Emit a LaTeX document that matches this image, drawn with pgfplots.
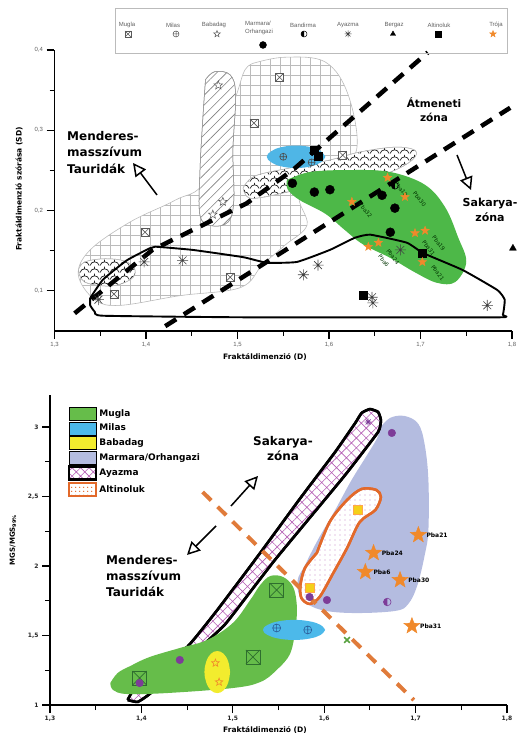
\documentclass[border=0pt]{standalone}
\usepackage{fontspec}
\setmainfont{DejaVu Sans}
\newfontfamily\lsans{Liberation Sans}
\usepackage{pgfplots}
\pgfplotsset{compat=1.18}
\usetikzlibrary{patterns.meta,arrows.meta}

\definecolor{tgreen}{HTML}{4DB848}
\definecolor{tblue}{HTML}{4FB6E6}
\definecolor{torange}{HTML}{F0892B}
\definecolor{bgreen}{HTML}{66BD4A}
\definecolor{bblue}{HTML}{4CB9EA}
\definecolor{byellow}{HTML}{F2EC2E}
\definecolor{blav}{HTML}{B4BCE0}
\definecolor{bpink}{HTML}{B45CB4}
\definecolor{borange}{HTML}{E2692A}
\definecolor{bdash}{HTML}{E07B3A}
\definecolor{bpurple}{HTML}{7D3C98}
\definecolor{dgreen}{HTML}{2E6E2E}
\definecolor{dblue}{HTML}{2A5D9A}
\definecolor{lgray}{HTML}{BBBBBB}
\definecolor{tgray}{HTML}{5F5F5F}
\definecolor{sqyel}{HTML}{F4D01A}

\tikzdeclarepattern{
  name=scallop,
  type=uncolored,
  bottom left={(0pt,0pt)},
  top right={(10pt,7pt)},
  tile size={(10pt,7pt)},
  code={
    \draw[line width=0.8pt] (0pt,0.5pt) .. controls (1.5pt,6pt) and (8.5pt,6pt) .. (10pt,0.5pt);
    \draw[line width=0.8pt] (5pt,4.6pt) -- (5pt,7pt);
  }
}

\pgfdeclareplotmark{boxx}{%
  \pgfpathrectangle{\pgfqpoint{-\pgfplotmarksize}{-\pgfplotmarksize}}{\pgfqpoint{2\pgfplotmarksize}{2\pgfplotmarksize}}%
  \pgfusepathqfillstroke
  \pgfpathmoveto{\pgfqpoint{-\pgfplotmarksize}{-\pgfplotmarksize}}\pgfpathlineto{\pgfqpoint{\pgfplotmarksize}{\pgfplotmarksize}}%
  \pgfpathmoveto{\pgfqpoint{-\pgfplotmarksize}{\pgfplotmarksize}}\pgfpathlineto{\pgfqpoint{\pgfplotmarksize}{-\pgfplotmarksize}}%
  \pgfusepathqstroke}
\pgfdeclareplotmark{ast8}{%
  \pgfpathmoveto{\pgfqpoint{-\pgfplotmarksize}{0pt}}\pgfpathlineto{\pgfqpoint{\pgfplotmarksize}{0pt}}%
  \pgfpathmoveto{\pgfqpoint{0pt}{-\pgfplotmarksize}}\pgfpathlineto{\pgfqpoint{0pt}{\pgfplotmarksize}}%
  \pgfpathmoveto{\pgfqpoint{-0.707\pgfplotmarksize}{-0.707\pgfplotmarksize}}\pgfpathlineto{\pgfqpoint{0.707\pgfplotmarksize}{0.707\pgfplotmarksize}}%
  \pgfpathmoveto{\pgfqpoint{-0.707\pgfplotmarksize}{0.707\pgfplotmarksize}}\pgfpathlineto{\pgfqpoint{0.707\pgfplotmarksize}{-0.707\pgfplotmarksize}}%
  \pgfusepathqstroke}
\pgfdeclareplotmark{star5}{%
  \pgfpathmoveto{\pgfpointpolar{90}{\pgfplotmarksize}}%
  \pgfpathlineto{\pgfpointpolar{126}{0.42*\pgfplotmarksize}}%
  \pgfpathlineto{\pgfpointpolar{162}{\pgfplotmarksize}}%
  \pgfpathlineto{\pgfpointpolar{198}{0.42*\pgfplotmarksize}}%
  \pgfpathlineto{\pgfpointpolar{234}{\pgfplotmarksize}}%
  \pgfpathlineto{\pgfpointpolar{270}{0.42*\pgfplotmarksize}}%
  \pgfpathlineto{\pgfpointpolar{306}{\pgfplotmarksize}}%
  \pgfpathlineto{\pgfpointpolar{342}{0.42*\pgfplotmarksize}}%
  \pgfpathlineto{\pgfpointpolar{18}{\pgfplotmarksize}}%
  \pgfpathlineto{\pgfpointpolar{54}{0.42*\pgfplotmarksize}}%
  \pgfpathclose
  \pgfusepathqfillstroke}
\pgfdeclareplotmark{halfc}{%
  \pgfpathmoveto{\pgfqpoint{0pt}{\pgfplotmarksize}}%
  \pgfpatharc{90}{270}{\pgfplotmarksize}%
  \pgfpathclose
  \pgfusepathqfill
  \pgfpathcircle{\pgfpointorigin}{\pgfplotmarksize}%
  \pgfusepathqstroke}

\pgfplotsset{
  base/.style={scale only axis, anchor=south west, axis lines*=left, clip=false,
    axis line style={line width=1.6pt, black},
    tick style={line width=1.1pt, black},
    tick align=outside, major tick length=8pt, minor tick length=5pt,
    xmin=1.3, xmax=1.8, xtick={1.3,1.4,1.5,1.6,1.7,1.8},
    minor xtick={1.35,1.45,1.55,1.65,1.75},
    /pgf/number format/use comma,
    /pgf/number format/fixed,
    /pgf/number format/precision=1,
    /pgf/number format/assume math mode=true}
}

\begin{document}
\begin{tikzpicture}
\useasboundingbox (0pt,0pt) rectangle (517pt,735pt);

% ================= TOP PLOT =================
\begin{axis}[base, at={(54.5pt,404pt)}, width=457.5pt, height=281pt,
  ymin=0.05, ymax=0.4, ytick={0.1,0.2,0.3,0.4}, minor ytick={0.15,0.25,0.35},
  tick label style={font=\lsans\fontsize{6}{7}\selectfont, text=tgray}]

% Mugla (grid)
\addplot[draw=lgray, line width=0.6pt, smooth, tension=0.6,
  pattern={Hatch[angle=0,distance=10pt,line width=0.6pt]}, pattern color=lgray]
coordinates {(1.519,0.384)(1.552,0.391)(1.596,0.385)(1.621,0.344)(1.630,0.275)(1.601,0.244)(1.568,0.219)(1.576,0.182)(1.552,0.157)(1.527,0.132)(1.503,0.104)(1.437,0.094)(1.372,0.082)(1.344,0.089)(1.326,0.120)(1.339,0.151)(1.383,0.186)(1.432,0.213)(1.465,0.238)(1.497,0.338)(1.508,0.375)(1.519,0.384)};

% Babadag (hatched)
\addplot[draw=lgray!80!black, line width=0.5pt, smooth, tension=0.6, fill=white,
  postaction={pattern={Lines[angle=45,distance=7pt,line width=0.6pt]}, pattern color=gray}]
coordinates {(1.465,0.363)(1.475,0.373)(1.492,0.369)(1.498,0.344)(1.495,0.275)(1.496,0.213)(1.490,0.186)(1.472,0.181)(1.459,0.194)(1.459,0.250)(1.462,0.313)(1.465,0.363)};

% wavy strips
\addplot[draw=lgray, line width=0.5pt, smooth, tension=0.6, fill=white,
  postaction={pattern=scallop, pattern color=black!85}]
coordinates {(1.506,0.228)(1.519,0.243)(1.557,0.253)(1.601,0.263)(1.634,0.273)(1.672,0.279)(1.694,0.275)(1.691,0.263)(1.667,0.248)(1.623,0.234)(1.568,0.226)(1.530,0.217)(1.512,0.216)(1.506,0.228)};
\addplot[draw=lgray, line width=0.5pt, smooth, tension=0.6, fill=white,
  postaction={pattern=scallop, pattern color=black!85}]
coordinates {(1.326,0.126)(1.333,0.136)(1.355,0.140)(1.377,0.137)(1.388,0.126)(1.383,0.114)(1.361,0.106)(1.333,0.111)(1.326,0.126)};

% Milas (blue)
\addplot[fill=tblue, draw=none, smooth, tension=0.7]
coordinates {(1.596,0.267)(1.591,0.274)(1.580,0.279)(1.564,0.281)(1.548,0.279)(1.537,0.274)(1.532,0.267)(1.537,0.260)(1.548,0.255)(1.564,0.253)(1.580,0.255)(1.591,0.260)(1.596,0.267)};

% Troja (green)
\addplot[fill=tgreen, draw=none, smooth, tension=0.6]
coordinates {(1.554,0.238)(1.579,0.248)(1.623,0.2505)(1.667,0.248)(1.705,0.232)(1.727,0.204)(1.741,0.167)(1.750,0.136)(1.738,0.111)(1.718,0.110)(1.694,0.123)(1.667,0.141)(1.637,0.158)(1.617,0.176)(1.596,0.196)(1.568,0.213)(1.555,0.226)(1.554,0.238)};

% Ayazma outline
\addplot[draw=black, line width=1.9pt, line join=round, smooth, tension=0.25]
coordinates {(1.339,0.091)(1.353,0.114)(1.379,0.138)(1.404,0.153)(1.410,0.155)(1.451,0.151)(1.506,0.142)(1.532,0.135)(1.565,0.136)(1.601,0.151)(1.628,0.166)(1.645,0.170)(1.685,0.160)(1.703,0.147)(1.746,0.126)(1.784,0.101)(1.792,0.089)(1.790,0.070)(1.784,0.067)(1.514,0.067)(1.353,0.069)(1.344,0.074)(1.339,0.082)(1.339,0.091)};

% dashed boundaries
\addplot[draw=black, line width=4.5pt, dash pattern=on 13pt off 9pt]
coordinates {(1.322,0.072)(1.407,0.151)(1.510,0.209)(1.561,0.251)(1.708,0.397)};
\addplot[draw=black, line width=4.5pt, dash pattern=on 13pt off 9pt]
coordinates {(1.421,0.056)(1.798,0.328)};

% samples
\addplot[only marks, mark=boxx, mark size=4pt, mark options={draw=black!65, fill=white, line width=0.6pt}]
coordinates {(1.546,0.366)(1.518,0.309)(1.615,0.269)(1.399,0.173)(1.492,0.117)(1.365,0.096)};
\addplot[only marks, mark=oplus, mark size=3.5pt, mark options={draw=black!70, line width=0.6pt}]
coordinates {(1.550,0.267)(1.581,0.260)};
\addplot[only marks, mark=star5, mark size=4.5pt, mark options={draw=black!65, fill=white, line width=0.5pt}]
coordinates {(1.479,0.356)(1.484,0.211)(1.473,0.195)};
\addplot[only marks, mark=*, mark size=4.5pt, mark options={draw=black, fill=black}]
coordinates {(1.560,0.234)(1.584,0.223)(1.601,0.226)(1.658,0.219)(1.672,0.203)(1.667,0.173)};
\addplot[only marks, mark=halfc, mark size=3.5pt, mark options={draw=black, fill=black, line width=0.6pt}]
coordinates {(1.672,0.231)};
\addplot[only marks, mark=ast8, mark size=5.5pt, mark options={draw=black!75, line width=0.6pt}]
coordinates {(1.348,0.089)(1.398,0.136)(1.440,0.138)(1.572,0.120)(1.588,0.132)(1.647,0.092)(1.648,0.085)(1.773,0.082)(1.678,0.151)};
\addplot[only marks, mark=triangle*, mark size=4pt, mark options={draw=black, fill=black}]
coordinates {(1.801,0.153)};
\addplot[only marks, mark=square*, mark size=4pt, mark options={draw=black, fill=black}]
coordinates {(1.584,0.275)(1.588,0.268)(1.702,0.147)(1.637,0.094)};
\addplot[only marks, mark=star5, mark size=4.5pt, mark options={draw=torange, fill=torange}]
coordinates {(1.664,0.241)(1.683,0.217)(1.625,0.211)(1.694,0.172)(1.705,0.175)(1.643,0.155)(1.654,0.160)(1.702,0.136)};

\begin{scope}[every node/.style={font=\fontsize{5.5}{6}\selectfont, text=black!80!green, rotate=-52, anchor=west, inner sep=0pt}]
\node at (axis cs:1.673,0.235) {Pba18};
\node at (axis cs:1.693,0.223) {Pba30};
\node at (axis cs:1.634,0.209) {Pba32};
\node at (axis cs:1.714,0.168) {Pba19};
\node at (axis cs:1.703,0.162) {Pba31};
\node at (axis cs:1.664,0.151) {Pba24};
\node at (axis cs:1.655,0.144) {Pba6};
\node at (axis cs:1.713,0.131) {Pba21};
\end{scope}
\end{axis}

% ================= TOP LEGEND =================
\begin{axis}[at={(115pt,682pt)}, anchor=south west, scale only axis, width=392pt, height=45pt,
  xmin=115, xmax=507, ymin=0, ymax=45, xtick=\empty, ytick=\empty, clip=false,
  axis line style={draw=lgray, line width=0.8pt}]
\addplot[only marks, mark=boxx, mark size=3pt, mark options={draw=black!65, fill=white, line width=0.5pt}] coordinates {(128,19)};
\addplot[only marks, mark=oplus, mark size=3pt, mark options={draw=black!65, line width=0.5pt}] coordinates {(176,19)};
\addplot[only marks, mark=star5, mark size=3.5pt, mark options={draw=black!65, fill=white, line width=0.5pt}] coordinates {(217,19)};
\addplot[only marks, mark=*, mark size=3.5pt, mark options={draw=black, fill=black}] coordinates {(263,8)};
\addplot[only marks, mark=halfc, mark size=3pt, mark options={draw=black, fill=black, line width=0.5pt}] coordinates {(304,19)};
\addplot[only marks, mark=ast8, mark size=3.5pt, mark options={draw=black!75, line width=0.5pt}] coordinates {(348,19)};
\addplot[only marks, mark=triangle*, mark size=3pt, mark options={draw=black, fill=black}] coordinates {(393,19)};
\addplot[only marks, mark=square*, mark size=3pt, mark options={draw=black, fill=black}] coordinates {(438,19)};
\addplot[only marks, mark=star5, mark size=3.5pt, mark options={draw=torange, fill=torange}] coordinates {(493,19)};
\begin{scope}[every node/.style={font=\lsans\fontsize{6}{6.5}\selectfont, text=tgray, inner sep=0pt}]
\node at (axis cs:127,28) {Mugla};
\node at (axis cs:173,28) {Milas};
\node at (axis cs:214,28) {Babadag};
\node at (axis cs:258,29.5) {Marmara/};
\node at (axis cs:259,21.5) {Orhangazi};
\node at (axis cs:303,28) {Bandirma};
\node at (axis cs:348,28) {Ayazma};
\node at (axis cs:394,28) {Bergaz};
\node at (axis cs:439,28) {Altinoluk};
\node at (axis cs:496,28) {Trója};
\end{scope}
\end{axis}

% ================= BOTTOM PLOT =================
\begin{axis}[base, at={(50pt,30pt)}, width=457pt, height=310pt,
  ymin=1, ymax=3.23, ytick={1,1.5,2,2.5,3}, minor ytick={1.25,1.75,2.25,2.75},
  tick label style={font=\bfseries\fontsize{6}{7}\selectfont, text=black!85},
  legend style={at={(0.0394,0.962)}, anchor=north west, draw=none, fill=none,
    font=\bfseries\fontsize{9}{10}\selectfont, row sep=1.2pt, inner sep=0pt,
    cells={anchor=west}},
  legend image code/.code={\draw[#1] (0pt,-6.5pt) rectangle (27pt,6.5pt);}]

\addlegendimage{fill=bgreen, draw=none}
\addlegendentry{Mugla}
\addlegendimage{fill=bblue, draw=none}
\addlegendentry{Milas}
\addlegendimage{fill=byellow, draw=none}
\addlegendentry{Babadag}
\addlegendimage{fill=blav, draw=none}
\addlegendentry{Marmara/Orhangazi}
\addlegendimage{draw=black, line width=2.2pt, fill=white, postaction={pattern={Hatch[angle=45,distance=6pt,line width=0.6pt]}, pattern color=bpink}}
\addlegendentry{Ayazma}
\addlegendimage{draw=borange, line width=2.2pt, fill=white, postaction={pattern={Dots[distance=4pt,radius=0.8pt]}, pattern color=borange}}
\addlegendentry{Altinoluk}

% Marmara/Orhangazi (lavender)
\addplot[fill=blav, draw=none, smooth, tension=0.6]
coordinates {(1.661,2.993)(1.672,3.065)(1.688,3.079)(1.703,3.022)(1.710,2.871)(1.714,2.619)(1.714,2.259)(1.710,2.079)(1.702,1.863)(1.692,1.727)(1.677,1.676)(1.628,1.662)(1.593,1.691)(1.574,1.777)(1.571,1.899)(1.579,2.007)(1.593,2.187)(1.612,2.403)(1.630,2.619)(1.647,2.799)(1.658,2.921)(1.661,2.993)};

% Altinoluk
\addplot[draw=borange, line width=2.5pt, fill=white, smooth, tension=0.5,
  postaction={pattern={Dots[distance=5pt,radius=0.6pt]}, pattern color=bpink!70}]
coordinates {(1.592,2.094)(1.606,2.317)(1.625,2.475)(1.641,2.554)(1.657,2.547)(1.662,2.496)(1.656,2.403)(1.639,2.317)(1.625,2.129)(1.610,1.950)(1.595,1.777)(1.584,1.727)(1.575,1.770)(1.574,1.863)(1.579,1.986)(1.592,2.094)};

% Ayazma
\addplot[draw=black, line width=2.6pt, fill=white, smooth, tension=0.25, line join=round,
  postaction={pattern={Hatch[angle=45,distance=7pt,line width=0.6pt]}, pattern color=bpink}]
coordinates {(1.385,1.036)(1.391,1.108)(1.409,1.237)(1.450,1.417)(1.483,1.683)(1.530,2.094)(1.574,2.489)(1.612,2.820)(1.634,3.029)(1.641,3.101)(1.650,3.129)(1.659,3.108)(1.662,3.050)(1.659,2.964)(1.623,2.655)(1.584,2.345)(1.546,2.043)(1.519,1.813)(1.491,1.576)(1.459,1.381)(1.426,1.194)(1.409,1.079)(1.396,1.022)(1.385,1.036)};

% Mugla (green)
\addplot[fill=bgreen, draw=none, smooth, tension=0.6]
coordinates {(1.366,1.158)(1.374,1.230)(1.388,1.281)(1.409,1.345)(1.442,1.410)(1.472,1.468)(1.500,1.590)(1.519,1.755)(1.530,1.863)(1.541,1.928)(1.555,1.921)(1.566,1.849)(1.570,1.719)(1.569,1.576)(1.563,1.374)(1.548,1.252)(1.530,1.165)(1.500,1.122)(1.428,1.086)(1.384,1.079)(1.369,1.108)(1.366,1.158)};

% Babadag (yellow)
\addplot[fill=byellow, draw=none, smooth, tension=0.7]
coordinates {(1.497,1.237)(1.495,1.313)(1.490,1.368)(1.483,1.388)(1.476,1.368)(1.471,1.313)(1.469,1.237)(1.471,1.162)(1.476,1.106)(1.483,1.086)(1.490,1.106)(1.495,1.162)(1.497,1.237)};

% Milas (blue)
\addplot[fill=bblue, draw=none, smooth, tension=0.7]
coordinates {(1.601,1.540)(1.596,1.576)(1.584,1.602)(1.567,1.612)(1.550,1.602)(1.538,1.576)(1.533,1.540)(1.538,1.504)(1.550,1.478)(1.567,1.468)(1.584,1.478)(1.596,1.504)(1.601,1.540)};

% orange dashed boundary
\addplot[draw=bdash, line width=4pt, dash pattern=on 12pt off 9pt]
coordinates {(1.467,2.532)(1.698,1.036)};

% samples
\addplot[only marks, mark=boxx, mark size=7pt, mark options={draw=dgreen, fill=bgreen, line width=0.7pt}]
coordinates {(1.548,1.827)(1.522,1.345)(1.398,1.194)};
\addplot[only marks, mark=oplus, mark size=4pt, mark options={draw=dblue, line width=0.6pt}]
coordinates {(1.548,1.554)(1.582,1.540)};
\addplot[only marks, mark=star5, mark size=4pt, mark options={draw=torange, fill=byellow, line width=0.6pt}]
coordinates {(1.481,1.302)(1.485,1.165)};
\addplot[only marks, mark=*, mark size=3.8pt, mark options={draw=bpurple, fill=bpurple}]
coordinates {(1.442,1.324)(1.398,1.158)(1.674,2.957)(1.603,1.755)(1.584,1.777)};
\addplot[only marks, mark=square*, mark size=4.5pt, mark options={draw=orange!70, fill=sqyel}]
coordinates {(1.637,2.403)(1.584,1.842)};
\addplot[only marks, mark=halfc, mark size=3.8pt, mark options={draw=bpurple, fill=bpurple, line width=0.6pt}]
coordinates {(1.669,1.741)};
\addplot[only marks, mark=x, mark size=4pt, mark options={draw=bgreen!85!black, line width=1.6pt}]
coordinates {(1.625,1.468)};
\addplot[only marks, mark=ast8, mark size=3.5pt, mark options={draw=bpurple, line width=0.7pt}]
coordinates {(1.648,3.036)};
\addplot[only marks, mark=star5, mark size=8.5pt, mark options={draw=torange, fill=torange}]
coordinates {(1.703,2.223)(1.654,2.094)(1.645,1.957)(1.683,1.899)(1.696,1.568)};

\begin{scope}[every node/.style={font=\bfseries\fontsize{6}{7}\selectfont, anchor=west, inner sep=0pt, xshift=8pt}]
\node at (axis cs:1.703,2.223) {Pba21};
\node at (axis cs:1.654,2.094) {Pba24};
\node at (axis cs:1.645,1.957) {Pba6};
\node at (axis cs:1.683,1.899) {Pba30};
\node at (axis cs:1.696,1.568) {Pba31};
\end{scope}
\end{axis}

% ================= annotations =================
\node[anchor=north west, align=left, inner sep=0pt, font=\bfseries\fontsize{12}{16.5}\selectfont] at (67pt,604pt) {Menderes-\\masszívum\\Tauridák};
\draw[line width=1.5pt, -{Triangle[fill=white, length=13pt, width=13pt]}] (157pt,540pt) -- (133pt,572pt);
\node[align=center, inner sep=0pt, font=\bfseries\fontsize{10.5}{14}\selectfont] at (434pt,625pt) {Átmeneti\\zóna};
\node[align=center, inner sep=0pt, font=\bfseries\fontsize{11}{15}\selectfont] at (490pt,525pt) {Sakarya-\\zóna};
\draw[line width=1.5pt, -{Triangle[fill=white, length=13pt, width=13pt]}] (457pt,580pt) -- (471pt,545pt);
\node[inner sep=0pt, font=\bfseries\fontsize{7.5}{8}\selectfont] at (265pt,378pt) {Fraktáldimenzió (D)};
\node[rotate=90, inner sep=0pt, font=\bfseries\fontsize{7.5}{8}\selectfont] at (19pt,546pt) {Fraktáldimenzió szórása (SD)};

\node[align=center, inner sep=0pt, font=\bfseries\fontsize{12}{15}\selectfont] at (283pt,286pt) {Sakarya-\\zóna};
\draw[line width=1.5pt, -{Triangle[fill=white, length=13pt, width=13pt]}] (231pt,229pt) -- (258pt,259pt);
\draw[line width=1.5pt, -{Triangle[fill=white, length=13pt, width=13pt]}] (216pt,209pt) -- (187pt,180pt);
\node[anchor=north west, align=left, inner sep=0pt, font=\bfseries\fontsize{12}{16}\selectfont] at (106pt,180pt) {Menderes-\\masszívum\\Tauridák};
\node[inner sep=0pt, font=\bfseries\fontsize{7.5}{8}\selectfont] at (265pt,5pt) {Fraktáldimenzió (D)};
\node[rotate=90, inner sep=0pt, font=\bfseries\fontsize{7}{8}\selectfont] at (13pt,195pt) {MGS/MGS\textsubscript{99\%}};
\end{tikzpicture}
\end{document}
